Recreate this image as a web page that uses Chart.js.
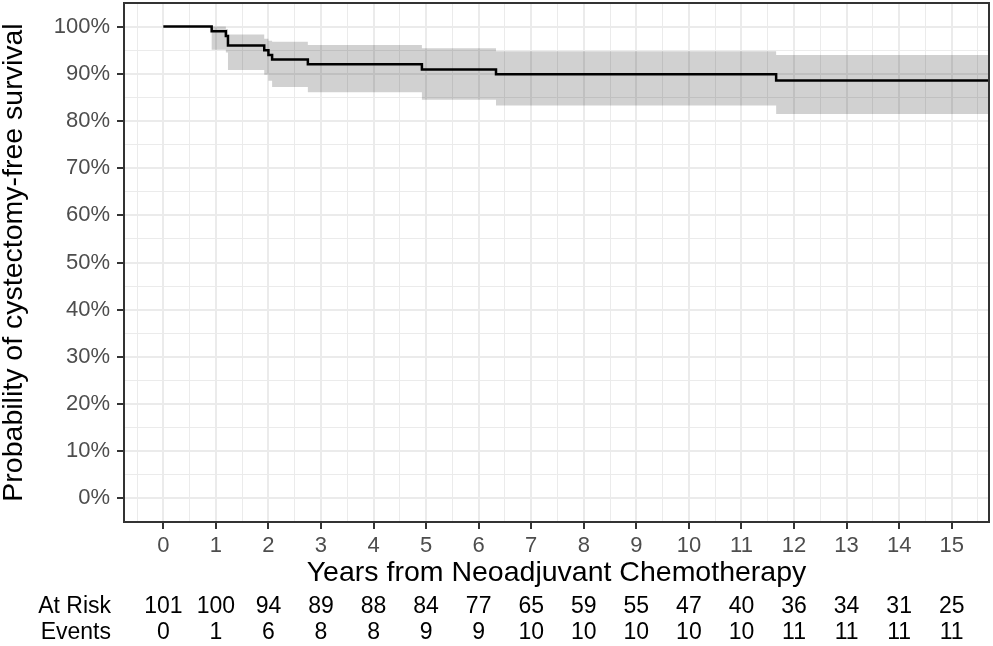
<!DOCTYPE html>
<html>
<head>
<meta charset="utf-8">
<script src="https://cdn.jsdelivr.net/npm/chart.js@4/dist/chart.umd.min.js"></script>
<style>
  html, body { margin: 0; padding: 0; background: #fff; }
  #wrap { width: 993px; height: 646px; }
</style>
</head>
<body>
<div id="wrap"><canvas id="myChart"></canvas></div>
<script>
// Kaplan-Meier estimate (years, % survival) with 95% band
const years    = [0, 0.92, 1.19, 1.23, 1.92, 2.00, 2.07, 2.75, 4.92, 6.33, 11.66, 15.71];
const survival = [100, 99.0, 98.0, 96.0, 95.0, 94.0, 93.0, 92.0, 90.9, 89.9, 88.6, 88.6];
const upperCI  = [100, 100, 99.5, 98.3, 97.4, 97.0, 96.8, 96.1, 95.4, 94.8, 94.0, 94.0];
const lowerCI  = [100, 95.1, 94.5, 90.8, 89.8, 88.5, 87.2, 86.1, 84.5, 83.3, 81.5, 81.5];

// risk table
const riskTimes = [0, 1, 2, 3, 4, 5, 6, 7, 8, 9, 10, 11, 12, 13, 14, 15];
const atRisk    = [101, 100, 94, 89, 88, 84, 77, 65, 59, 55, 47, 40, 36, 34, 31, 25];
const events    = [0, 1, 6, 8, 8, 9, 9, 10, 10, 10, 10, 10, 11, 11, 11, 11];

// axis breaks
const xMajor = [0, 1, 2, 3, 4, 5, 6, 7, 8, 9, 10, 11, 12, 13, 14, 15];
const xMinor = [-0.5, 0.5, 1.5, 2.5, 3.5, 4.5, 5.5, 6.5, 7.5, 8.5, 9.5, 10.5, 11.5, 12.5, 13.5, 14.5, 15.5];
const yMajor = [0, 10, 20, 30, 40, 50, 60, 70, 80, 90, 100];
const yMinor = [5, 15, 25, 35, 45, 55, 65, 75, 85, 95];

const FONT = "'Liberation Sans', Arial, sans-serif";

const toPoints = (vals) => years.map((x, i) => ({ x: x, y: vals[i] }));
const setTicks = (major, minor) => (scale) => {
    scale.ticks = major.concat(minor).sort((a, b) => a - b).map((v) => ({ value: v }));
};
const isMajor = (list) => (ctx) => ctx.tick && list.includes(ctx.tick.value);

const panelPlugin = {
    id: "panelBorder",
    afterDatasetsDraw: (chart) => {
        const { ctx, chartArea } = chart;
        ctx.save();
        ctx.strokeStyle = "#333333";
        ctx.lineWidth = 2;
        ctx.strokeRect(chartArea.left, chartArea.top, chartArea.right - chartArea.left, chartArea.bottom - chartArea.top);
        ctx.restore();
    },
};

const riskTablePlugin = {
    id: "riskTable",
    afterDraw: (chart) => {
        const { ctx, chartArea } = chart;
        const xs = chart.scales.x;
        const row1 = chartArea.bottom + 85;
        const row2 = chartArea.bottom + 111;
        ctx.save();
        ctx.font = "23px " + FONT;
        ctx.fillStyle = "#000";
        ctx.textBaseline = "middle";
        ctx.textAlign = "right";
        ctx.fillText("At Risk", chartArea.left - 13, row1);
        ctx.fillText("Events", chartArea.left - 13, row2);
        ctx.textAlign = "center";
        riskTimes.forEach((t, i) => {
            const px = xs.getPixelForValue(t);
            ctx.fillText(String(atRisk[i]), px, row1);
            ctx.fillText(String(events[i]), px, row2);
        });
        ctx.restore();
    },
};

document.addEventListener("DOMContentLoaded", () => {
    const ctx = document.getElementById("myChart").getContext("2d");
    new Chart(ctx, {
        type: "line",
        data: {
            datasets: [
                {
                    data: toPoints(survival),
                    borderColor: "#000",
                    borderWidth: 2.5,
                    stepped: "before",
                    pointRadius: 0,
                    fill: false,
                },
                {
                    data: toPoints(upperCI),
                    borderWidth: 0,
                    borderColor: "rgba(0,0,0,0)",
                    stepped: "before",
                    pointRadius: 0,
                    fill: "+1",
                    backgroundColor: "rgba(0, 0, 0, 0.18)",
                },
                {
                    data: toPoints(lowerCI),
                    borderWidth: 0,
                    borderColor: "rgba(0,0,0,0)",
                    stepped: "before",
                    pointRadius: 0,
                    fill: false,
                },
            ],
        },
        options: {
            responsive: true,
            maintainAspectRatio: false,
            animation: false,
            layout: { padding: { top: 3, right: 4, left: 0, bottom: 0 } },
            plugins: {
                legend: { display: false },
                tooltip: { enabled: false },
            },
            scales: {
                x: {
                    type: "linear",
                    min: -0.748,
                    max: 15.71,
                    afterBuildTicks: setTicks(xMajor, xMinor),
                    afterFit: (scale) => {
                        scale.height = 124;
                        scale.paddingLeft = 0;
                        scale.paddingRight = 0;
                    },
                    border: { display: false },
                    grid: {
                        color: "#ebebeb",
                        lineWidth: (c) => (isMajor(xMajor)(c) ? 2 : 1),
                        tickLength: 7,
                        tickWidth: 2,
                        tickColor: (c) => (isMajor(xMajor)(c) ? "#333333" : "rgba(0,0,0,0)"),
                    },
                    ticks: {
                        autoSkip: false,
                        maxRotation: 0,
                        padding: 4,
                        color: "#4d4d4d",
                        font: { family: FONT, size: 22 },
                        callback: (v) => (xMajor.includes(v) ? String(v) : ""),
                    },
                    title: {
                        display: true,
                        text: "Years from Neoadjuvant Chemotherapy",
                        color: "#000",
                        font: { family: FONT, size: 28.5, lineHeight: 1 },
                        padding: { top: 0, bottom: 59 },
                    },
                },
                y: {
                    type: "linear",
                    min: -5,
                    max: 105,
                    afterBuildTicks: setTicks(yMajor, yMinor),
                    afterFit: (scale) => {
                        scale.width = 124;
                        scale.paddingTop = 0;
                        scale.paddingBottom = 0;
                    },
                    border: { display: false },
                    grid: {
                        color: "#ebebeb",
                        lineWidth: (c) => (isMajor(yMajor)(c) ? 2 : 1),
                        tickLength: 7,
                        tickWidth: 2,
                        tickColor: (c) => (isMajor(yMajor)(c) ? "#333333" : "rgba(0,0,0,0)"),
                    },
                    ticks: {
                        autoSkip: false,
                        padding: 7,
                        color: "#4d4d4d",
                        font: { family: FONT, size: 22 },
                        callback: (v) => (yMajor.includes(v) ? v + "%" : ""),
                    },
                    title: {
                        display: true,
                        text: "Probability of cystectomy-free survival",
                        color: "#000",
                        font: { family: FONT, size: 28.5, lineHeight: 1 },
                        padding: { top: 0, bottom: 0 },
                    },
                },
            },
        },
        plugins: [panelPlugin, riskTablePlugin],
    });
});
</script>
</body>
</html>
